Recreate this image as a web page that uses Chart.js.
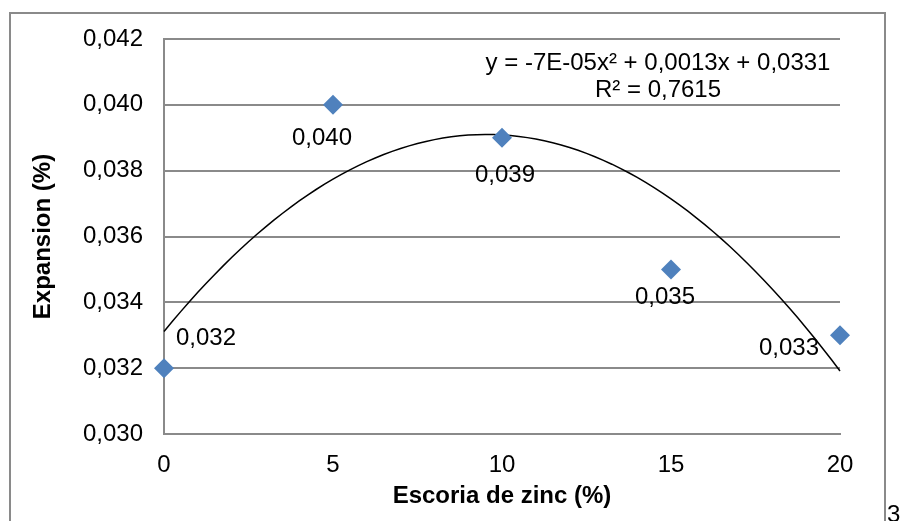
<!DOCTYPE html>
<html>
<head>
<meta charset="utf-8">
<script src="https://cdn.jsdelivr.net/npm/chart.js@4.4.0/dist/chart.umd.min.js"></script>
<style>
  html, body { margin: 0; padding: 0; background: #fff; }
  canvas { display: block; }
</style>
</head>
<body>
<canvas id="myChart" width="902" height="521"></canvas>
<script>
// data
var escoria = [0, 5, 10, 15, 20];
var expansion = [0.032, 0.040, 0.039, 0.035, 0.033];
var pointLabels = ['0,032', '0,040', '0,039', '0,035', '0,033'];
var xTicks = [0, 5, 10, 15, 20];
var yTicks = [0.030, 0.032, 0.034, 0.036, 0.038, 0.040, 0.042];
var equationLines = ['y = -7E-05x\u00B2 + 0,0013x + 0,0331', 'R\u00B2 = 0,7615'];

// where each data label sits relative to its point (px)
var labelOffsets = [[42, -30], [-11, 34], [3, 38], [-6, 28], [-51, 13]];

var FONT = '"Liberation Sans", Arial, sans-serif';
var GRID = '#8a8a8a';

// 2nd order least squares fit, same as the excel trendline
function polyFit2(xs, ys) {
  var s = [0, 0, 0, 0, 0], t = [0, 0, 0];
  for (var i = 0; i < xs.length; i++) {
    var p = 1;
    for (var k = 0; k < 5; k++) {
      s[k] += p;
      if (k < 3) t[k] += p * ys[i];
      p *= xs[i];
    }
  }
  var m = [[s[0], s[1], s[2], t[0]], [s[1], s[2], s[3], t[1]], [s[2], s[3], s[4], t[2]]];
  for (var c = 0; c < 3; c++) {
    for (var r = c + 1; r < 3; r++) {
      var f = m[r][c] / m[c][c];
      for (var j = c; j < 4; j++) m[r][j] -= f * m[c][j];
    }
  }
  var coef = [0, 0, 0];
  for (var r2 = 2; r2 >= 0; r2--) {
    var v = m[r2][3];
    for (var j2 = r2 + 1; j2 < 3; j2++) v -= m[r2][j2] * coef[j2];
    coef[r2] = v / m[r2][r2];
  }
  return coef; // a + b x + c x^2
}

var coef = polyFit2(escoria, expansion);
var trend = [];
for (var x = escoria[0]; x <= escoria[escoria.length - 1] + 1e-9; x += 0.25) {
  trend.push({ x: x, y: coef[0] + coef[1] * x + coef[2] * x * x });
}

var extras = {
  id: 'extras',
  beforeDraw: function (chart) {
    var ctx = chart.ctx;
    ctx.save();
    ctx.fillStyle = '#fff';
    ctx.fillRect(0, 0, chart.width, chart.height);
    ctx.strokeStyle = GRID;
    ctx.lineWidth = 2;
    ctx.strokeRect(10, 13, 875, 530);
    ctx.restore();
  },
  afterDatasetsDraw: function (chart) {
    var ctx = chart.ctx;
    var area = chart.chartArea;
    ctx.save();
    ctx.fillStyle = '#000';
    ctx.font = '24px ' + FONT;
    ctx.textAlign = 'center';
    ctx.textBaseline = 'middle';
    chart.getDatasetMeta(0).data.forEach(function (pt, i) {
      ctx.fillText(pointLabels[i], pt.x + labelOffsets[i][0], pt.y + labelOffsets[i][1]);
    });
    ctx.textBaseline = 'alphabetic';
    ctx.fillText(equationLines[0], area.right - 182, area.top + 31);
    ctx.fillText(equationLines[1], area.right - 182, area.top + 58);
    // page number cut off at the edge of the screenshot
    ctx.textAlign = 'left';
    ctx.fillText('3', 887, 522);
    ctx.restore();
  }
};

var ctx = document.getElementById('myChart').getContext('2d');

var myChart = new Chart(ctx, {
  type: 'scatter',
  data: {
    datasets: [{
      data: escoria.map(function (v, i) { return { x: v, y: expansion[i] }; }),
      backgroundColor: '#4F81BD',
      borderColor: '#4F81BD',
      borderWidth: 0,
      pointStyle: 'rectRot',
      pointRadius: 10,
      showLine: false,
      clip: false
    }, {
      data: trend,
      showLine: true,
      borderColor: '#000',
      borderWidth: 1.5,
      pointRadius: 0,
      tension: 0,
      fill: false,
      clip: false
    }]
  },
  options: {
    responsive: false,
    animation: false,
    events: [],
    layout: { padding: { left: 10, top: 39, right: 62, bottom: 10 } },
    plugins: {
      legend: { display: false },
      tooltip: { enabled: false }
    },
    scales: {
      x: {
        type: 'linear',
        min: 0,
        max: 20,
        afterBuildTicks: function (s) { s.ticks = xTicks.map(function (v) { return { value: v }; }); },
        afterFit: function (s) { s.height = 77; },
        grid: { display: false, drawTicks: false },
        border: { display: true, color: GRID, width: 2 },
        ticks: {
          padding: 17,
          color: '#000',
          font: { family: FONT, size: 24 },
          callback: function (v) { return String(v); }
        },
        title: {
          display: true,
          text: 'Escoria de zinc (%)',
          color: '#000',
          padding: { top: 0, bottom: 0 },
          font: { family: FONT, size: 24, weight: 'bold' }
        }
      },
      y: {
        min: 0.030,
        max: 0.042,
        afterBuildTicks: function (s) { s.ticks = yTicks.map(function (v) { return { value: v }; }); },
        afterFit: function (s) { s.width = 154; },
        grid: { color: GRID, lineWidth: 2, drawTicks: false },
        border: { display: true, color: GRID, width: 2 },
        ticks: {
          padding: 21,
          color: '#000',
          font: { family: FONT, size: 24 },
          callback: function (v) { return v.toFixed(3).replace('.', ','); }
        },
        title: {
          display: true,
          text: 'Expansion (%)',
          color: '#000',
          padding: { top: 19, bottom: 0 },
          font: { family: FONT, size: 24, weight: 'bold' }
        }
      }
    }
  },
  plugins: [extras]
});
</script>
</body>
</html>
